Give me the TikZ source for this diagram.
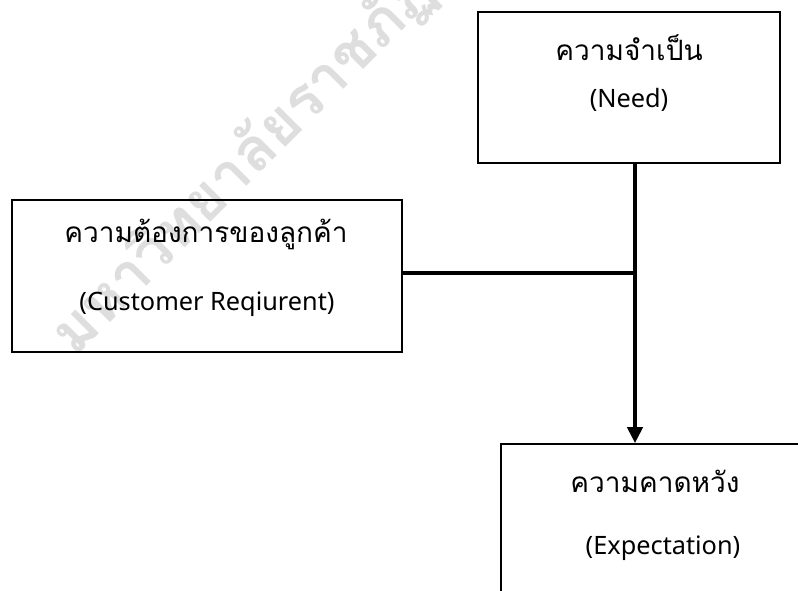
\documentclass[tikz,border=0pt]{standalone}
\usepackage{fontspec}
\setmainfont{Noto Sans}
\newfontfamily\thai[Script=Thai]{Loma}
\usetikzlibrary{arrows.meta}
\definecolor{wm}{RGB}{222,222,222}
\tikzset{
  box/.style={draw=black, line width=1.6pt, inner sep=0pt},
  thaitext/.style={font=\thai\fontsize{28}{32}\selectfont, inner sep=0pt, anchor=center},
  engtext/.style={font=\fontsize{25.3}{30}\selectfont, inner sep=0pt, anchor=center},
  link/.style={line width=4pt},
  watermark/.style={font=\thai\bfseries\fontsize{60}{64}\selectfont, text=wm, rotate=45, inner sep=0pt, anchor=west}
}
\begin{document}
\begin{tikzpicture}[x=1pt, y=-1pt]
\clip (0,0) rectangle (798,590);
\useasboundingbox (0,0) rectangle (798,590);
% watermark
\node[watermark] (wmk) at (62,345) {มหาวิทยาลัยราชภัฏ};
% boxes
\node[box, minimum width=302pt, minimum height=151pt] (need) at (629,87.5) {};
\node[box, minimum width=390pt, minimum height=152pt] (cust) at (207,276) {};
\node[box, minimum width=314pt, minimum height=200pt] (expect) at (658,544) {};
% texts
\node[thaitext] (needT) at (629,48) {ความจำเป็น};
\node[engtext] (needE) at (629,100) {(Need)};
\node[thaitext] (custT) at (206,234) {ความต้องการของลูกค้า};
\node[engtext] (custE) at (207,304) {(Customer Reqiurent)};
\node[thaitext] (expT) at (655,481) {ความคาดหวัง};
\node[engtext] (expE) at (663,548) {(Expectation)};
% connectors
\coordinate (j) at (635,273);
\draw[link] (cust.east |- j) -- (j);
\draw[link, -{Triangle[width=15pt,length=16pt]}] (need.south -| j) -- (expect.north -| j);
\end{tikzpicture}
\end{document}
